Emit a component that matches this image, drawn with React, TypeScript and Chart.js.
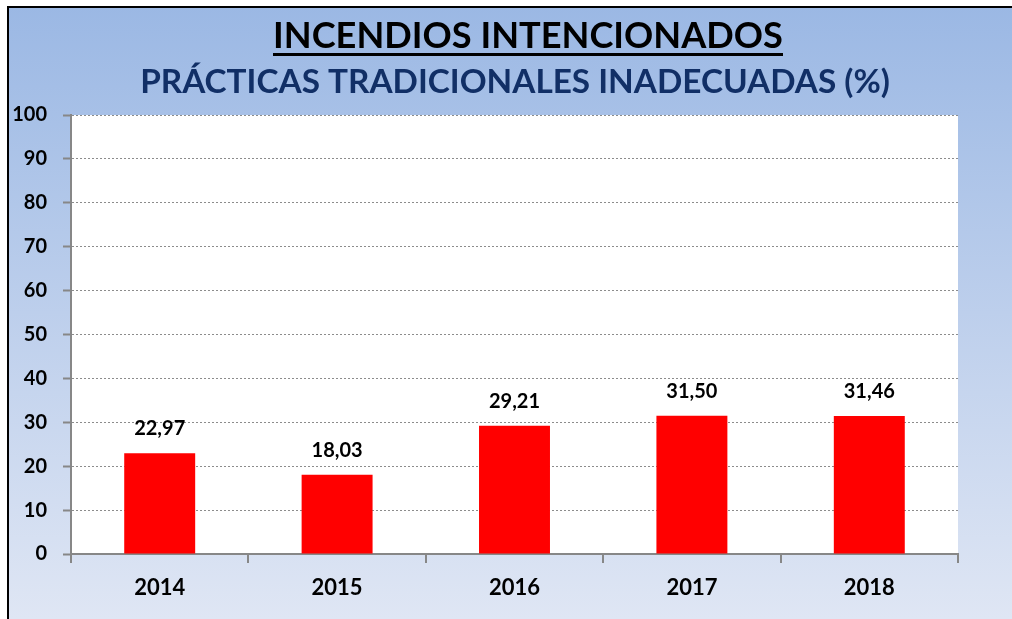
import React, { useEffect, useRef } from "react";
import { Chart, registerables } from "chart.js";

Chart.register(...registerables);

const title = "INCENDIOS INTENCIONADOS";
const subtitle = "PRÁCTICAS TRADICIONALES INADECUADAS (%)";
const years = ["2014", "2015", "2016", "2017", "2018"];
const percentages = [22.97, 18.03, 29.21, 31.5, 31.46];
const yMin = 0;
const yMax = 100;
const yStep = 10;

const FONT = "Lato, 'Open Sans', 'Liberation Sans', sans-serif";

function fitText(ctx: CanvasRenderingContext2D, text: string, width: number, base: number) {
  ctx.font = `bold ${base}px ${FONT}`;
  const w = ctx.measureText(text).width;
  const size = (base * width) / w;
  ctx.font = `bold ${size}px ${FONT}`;
  return size;
}

const decorPlugin = {
  id: "decor",
  beforeDraw(chart: any) {
    const { ctx, chartArea } = chart;
    ctx.save();
    const g = ctx.createLinearGradient(0, 6, 0, 619);
    g.addColorStop(0, "#9bb8e4");
    g.addColorStop(1, "#dfe6f4");
    ctx.fillStyle = g;
    ctx.fillRect(7, 6, 1012 - 7, 619 - 6);
    ctx.fillStyle = "#000";
    ctx.fillRect(7, 6, 1012 - 7, 2);
    ctx.fillRect(7, 6, 2, 619 - 6);
    ctx.fillStyle = "#ffffff";
    ctx.fillRect(chartArea.left, chartArea.top, chartArea.right - chartArea.left, chartArea.bottom - chartArea.top);
    ctx.restore();
  },
  afterDraw(chart: any) {
    const { ctx } = chart;
    ctx.save();
    ctx.textAlign = "center";
    ctx.textBaseline = "alphabetic";
    // title
    fitText(ctx, title, 510, 32);
    ctx.fillStyle = "#000000";
    ctx.fillText(title, 528, 48);
    ctx.fillRect(273, 53, 510, 3);
    // subtitle
    fitText(ctx, subtitle, 750, 28);
    ctx.fillStyle = "#112f66";
    ctx.fillText(subtitle, 515, 93);
    // data labels
    ctx.font = `bold 20px ${FONT}`;
    ctx.fillStyle = "#000000";
    const meta = chart.getDatasetMeta(0);
    meta.data.forEach((bar: any, i: number) => {
      const label = percentages[i].toFixed(2).replace(".", ",");
      ctx.fillText(label, bar.x, bar.y - 18);
    });
    ctx.restore();
  },
};

export default function App() {
  const ref = useRef<HTMLCanvasElement | null>(null);
  useEffect(() => {
    document.body.style.margin = "0";
    document.body.style.overflow = "hidden";
    const canvas = ref.current!;
    const chart = new Chart(canvas, {
      type: "bar",
      data: {
        labels: years,
        datasets: [
          {
            data: percentages,
            backgroundColor: "#ff0000",
            borderWidth: 0,
            barPercentage: 0.4,
            categoryPercentage: 1,
          },
        ],
      },
      options: {
        responsive: false,
        animation: false,
        layout: { padding: { top: 115, right: 54, left: 0, bottom: 0 } },
        plugins: {
          legend: { display: false },
          title: { display: false },
          tooltip: { enabled: false },
        },
        scales: {
          x: {
            offset: true,
            afterFit: (scale: any) => {
              scale.height = 65;
            },
            grid: {
              display: true,
              drawOnChartArea: false,
              drawTicks: true,
              tickLength: 9,
              color: "#878787",
              lineWidth: 2,
              offset: true,
            },
            border: { display: true, color: "#878787", width: 2 },
            ticks: {
              color: "#000000",
              font: { family: FONT, size: 22, weight: "bold" },
              padding: 12,
            },
          },
          y: {
            min: yMin,
            max: yMax,
            afterFit: (scale: any) => {
              scale.width = 71;
            },
            grid: {
              color: "#8c8c8c",
              lineWidth: 1,
              tickLength: 8,
              tickColor: "#878787",
              tickWidth: 2,
              tickBorderDash: [],
            },
            border: { display: true, color: "#878787", width: 2, dash: [2, 2] },
            ticks: {
              stepSize: yStep,
              color: "#000000",
              font: { family: FONT, size: 20, weight: "bold" },
              padding: 16,
            },
          },
        },
      },
      plugins: [decorPlugin],
    } as any);
    return () => chart.destroy();
  }, []);
  return <canvas ref={ref} width={1012} height={619} style={{ display: "block" }} />;
}
